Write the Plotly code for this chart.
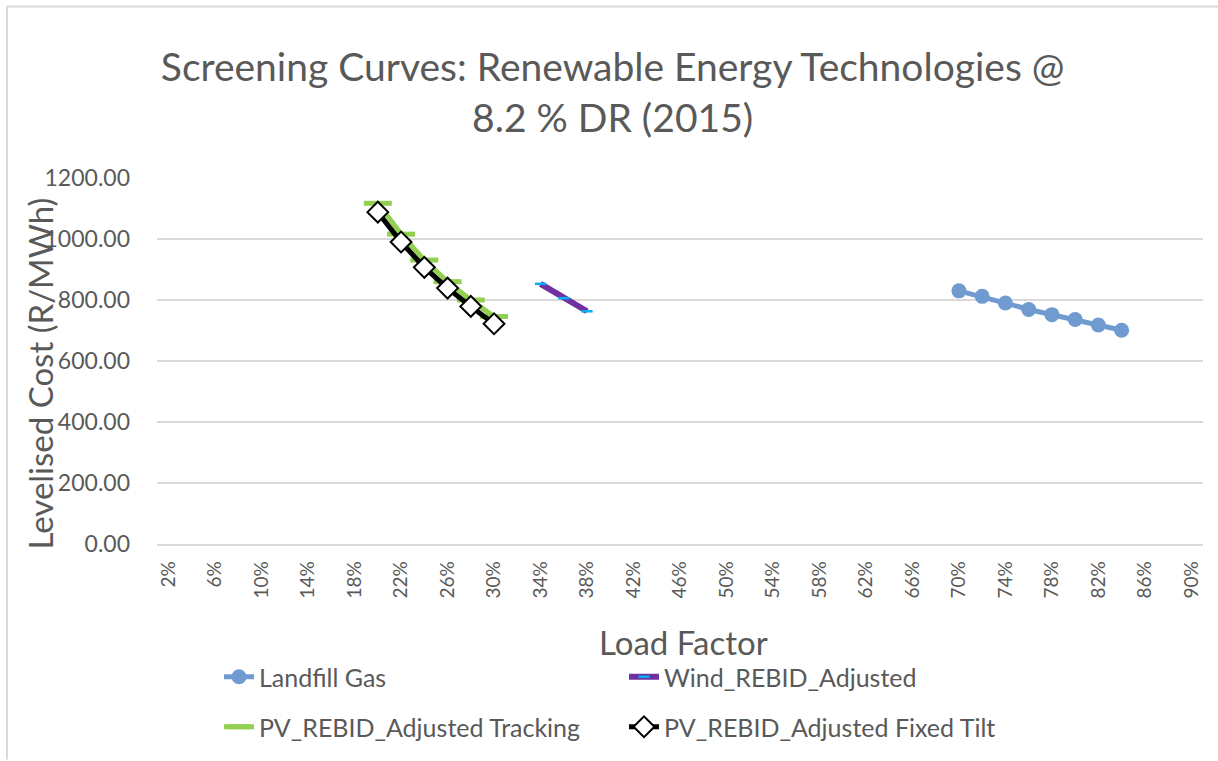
import plotly.graph_objects as go

# ---- data ----
categories = [f"{v}%" for v in range(2, 92, 2)]
tick_labels = [f"{v}%" for v in range(2, 92, 4)]

landfill_x = ["70%", "72%", "74%", "76%", "78%", "80%", "82%", "84%"]
landfill_y = [830, 812, 790, 769, 752, 736, 718, 701]

wind_x = ["34%", "36%", "38%"]
wind_y = [853, 806, 763]

pv_track_x = ["20%", "22%", "24%", "26%", "28%", "30%"]
pv_track_y = [1117, 1016, 931, 860, 800, 746]

pv_fixed_x = ["20%", "22%", "24%", "26%", "28%", "30%"]
pv_fixed_y = [1088, 990, 907, 839, 779, 722]

FONT = "Lato, Carlito, Calibri, sans-serif"
GREY = "#595959"

L, R, T, B = 157, 1203, 178, 545
PW, PH = R - L, B - T

def px(x):
    return (x - L) / PW

def py(y):
    return (B - y) / PH

fig = go.Figure()
fig.add_trace(go.Scatter(
    x=landfill_x, y=landfill_y, name="Landfill Gas", mode="lines+markers",
    line=dict(color="#6f9bd1", width=5),
    marker=dict(symbol="circle", size=15, color="#6f9bd1"),
    legend="legend"))
fig.add_trace(go.Scatter(
    x=wind_x, y=wind_y, name="Wind_REBID_Adjusted", mode="lines+markers",
    line=dict(color="#7030a0", width=6),
    marker=dict(symbol="line-ew", size=8, color="#00b0f0",
                line=dict(color="#00b0f0", width=2.5)),
    legend="legend"))
fig.add_trace(go.Scatter(
    x=pv_track_x, y=pv_track_y, name="PV_REBID_Adjusted Tracking", mode="lines+markers",
    line=dict(color="#92d050", width=5),
    marker=dict(symbol="line-ew", size=20, color="#92d050",
                line=dict(color="#92d050", width=5)),
    legend="legend2"))
fig.add_trace(go.Scatter(
    x=pv_fixed_x, y=pv_fixed_y, name="PV_REBID_Adjusted Fixed Tilt", mode="lines+markers",
    line=dict(color="#000000", width=5),
    marker=dict(symbol="diamond", size=16, color="#ffffff",
                line=dict(color="#000000", width=2)),
    legend="legend2"))

legend_common = dict(orientation="h", xanchor="left", yanchor="middle",
                     font=dict(size=25, color=GREY, family=FONT),
                     entrywidth=360, entrywidthmode="pixels",
                     bgcolor="rgba(0,0,0,0)", traceorder="normal")

fig.update_layout(
    width=1218, height=761,
    margin=dict(l=L, r=1218 - R, t=T, b=761 - B),
    paper_bgcolor="white", plot_bgcolor="white",
    font=dict(family=FONT, color=GREY),
    title=dict(text="Screening Curves: Renewable Energy Technologies @<br>8.2 % DR (2015)",
               x=0.503, xanchor="center", y=1 - 81 / 761, yanchor="middle",
               font=dict(size=39, color=GREY, family=FONT)),
    showlegend=True,
    legend=dict(x=px(219), y=py(677), **legend_common),
    legend2=dict(x=px(219), y=py(727), **legend_common),
)

fig.update_xaxes(
    type="category", categoryorder="array", categoryarray=categories,
    range=[-0.5, len(categories) - 0.5],
    tickmode="array", tickvals=tick_labels, ticktext=tick_labels,
    tickangle=-90, tickfont=dict(size=19, color=GREY, family=FONT),
    showgrid=False, showline=True, linecolor="#d9d9d9", linewidth=1.5,
    ticks="", zeroline=False, ticklabelstandoff=8,
)
fig.update_yaxes(
    range=[0, 1200], tickvals=[0, 200, 400, 600, 800, 1000, 1200],
    tickformat=".2f", tickfont=dict(size=23, color=GREY, family=FONT),
    showgrid=True, gridcolor="#d9d9d9", gridwidth=1.5,
    showline=False, zeroline=False, ticks="", ticklabelstandoff=26,
)

# axis titles
fig.add_annotation(text="Levelised Cost (R/MWh)", xref="paper", yref="paper",
                   x=px(40), y=py(374), xanchor="center", yanchor="middle",
                   textangle=-90, showarrow=False,
                   font=dict(size=33, color=GREY, family=FONT))
fig.add_annotation(text="Load Factor", xref="paper", yref="paper",
                   x=px(683), y=py(643), xanchor="center", yanchor="middle",
                   showarrow=False, font=dict(size=33, color=GREY, family=FONT))

# chart border (top and left edges visible)
fig.add_shape(type="line", xref="paper", yref="paper",
              x0=px(7), x1=px(1218), y0=py(6), y1=py(6),
              line=dict(color="#d9d9d9", width=2))
fig.add_shape(type="line", xref="paper", yref="paper",
              x0=px(7), x1=px(7), y0=py(6), y1=py(761),
              line=dict(color="#d9d9d9", width=2))

fig.write_html("out.html", config={"displayModeBar": False},
               post_script="document.body.style.margin='0';")
